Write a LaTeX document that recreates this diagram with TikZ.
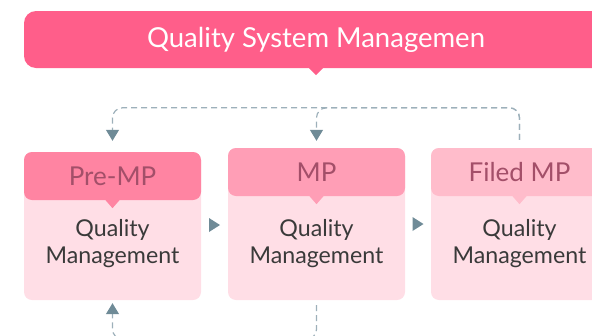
\documentclass[tikz,border=0pt]{standalone}
\usepackage{fontspec}
\setmainfont{Lato}
\usetikzlibrary{arrows.meta}

\definecolor{titlecol}{HTML}{FF5E8A}
\definecolor{hdrA}{HTML}{FF84A2}
\definecolor{hdrB}{HTML}{FF9EB6}
\definecolor{hdrC}{HTML}{FFBCCB}
\definecolor{bodycol}{HTML}{FFDEE6}
\definecolor{hdrtext}{HTML}{A34F69}
\definecolor{bodytext}{HTML}{3A3A3A}
\definecolor{arrowcol}{HTML}{6F8B97}
\definecolor{dashcol}{HTML}{9DB0BA}

\tikzset{
  title/.style={fill=titlecol, text=white, rounded corners=12pt, minimum width=584pt,
    minimum height=57pt, inner sep=0pt, font=\fontsize{27.5}{27.5}\selectfont},
  box/.style={fill=bodycol, rounded corners=8pt, minimum width=177pt, inner sep=0pt},
  head/.style={rounded corners=8pt, minimum width=177pt, minimum height=48pt, inner sep=0pt,
    text=hdrtext, font=\fontsize{26}{26}\selectfont},
  body/.style={text=bodytext, align=center, font=\fontsize{23.2}{27}\selectfont},
  loop/.style={draw=dashcol, line width=1.2pt, dash pattern=on 6pt off 4pt, rounded corners=10pt,
    -{Triangle[width=13pt,length=11pt,color=arrowcol]}}
}

\begin{document}
\begin{tikzpicture}[x=1pt,y=-1pt]
  \useasboundingbox (0,0) rectangle (592,335);
  \clip (0,0) rectangle (592,335);
  % top banner
  \node[title] (Title) at (316,39.5) {Quality System Managemen};
  \fill[titlecol] ([xshift=-7pt]Title.south) -- ([xshift=7pt]Title.south) -- ([yshift=-7pt]Title.south) -- cycle;
  % stage boxes
  \node[box, minimum height=148pt] (Pre) at (112.5,226) {};
  \node[box, minimum height=152pt] (MP) at (316.5,224) {};
  \node[box, minimum height=152pt] (Filed) at (519.5,224) {};
  \node[head, fill=hdrA, anchor=north] (PreH) at (Pre.north) {Pre-MP};
  \node[head, fill=hdrB, anchor=north] (MPH) at (MP.north) {MP};
  \node[head, fill=hdrC, anchor=north] (FiledH) at (Filed.north) {Filed MP};
  \fill[hdrA] ([xshift=-7pt]PreH.south) -- ([xshift=7pt]PreH.south) -- ([yshift=-8pt]PreH.south) -- cycle;
  \fill[hdrB] ([xshift=-7pt]MPH.south) -- ([xshift=7pt]MPH.south) -- ([yshift=-8pt]MPH.south) -- cycle;
  \fill[hdrC] ([xshift=-7pt]FiledH.south) -- ([xshift=7pt]FiledH.south) -- ([yshift=-8pt]FiledH.south) -- cycle;
  \node[body] (PreT) at (112.5,244) {Quality\\Management};
  \node[body] (MPT) at (316.5,244) {Quality\\Management};
  \node[body] (FiledT) at (519.5,244) {Quality\\Management};
  % flow marks between boxes
  \path (Pre.east) -- (MP.west) coordinate[midway] (F1);
  \path (MP.east) -- (Filed.west) coordinate[midway] (F2);
  \fill[arrowcol] ([xshift=-5.5pt,yshift=7pt]F1) -- ([xshift=5.5pt]F1) -- ([xshift=-5.5pt,yshift=-7pt]F1) -- cycle;
  \fill[arrowcol] ([xshift=-5.5pt,yshift=7pt]F2) -- ([xshift=5.5pt]F2) -- ([xshift=-5.5pt,yshift=-7pt]F2) -- cycle;
  % feedback loops
  \draw[loop, shorten <=8pt, shorten >=11pt] (Filed.north) -- ++(0,-40) -| (Pre.north);
  \draw[loop, shorten <=8pt, shorten >=7pt] (Filed.north) -- ++(0,-40) -| (MP.north);
  \draw[loop, shorten <=5pt, shorten >=3pt] (MP.south) -- ++(0,39) -| (Pre.south);
\end{tikzpicture}
\end{document}
